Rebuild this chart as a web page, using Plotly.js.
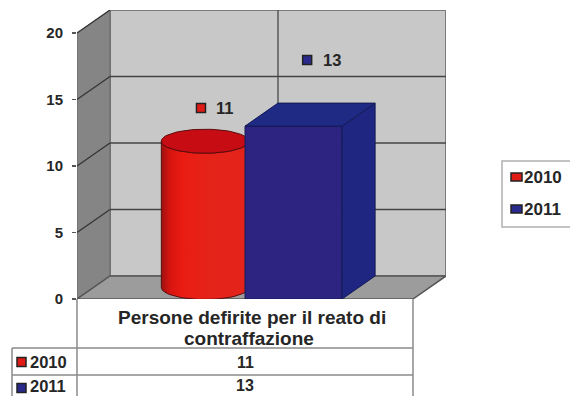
<!DOCTYPE html>
<html>
<head>
<meta charset="utf-8">
<script src="https://cdn.plot.ly/plotly-3.0.1.min.js"></script>
<style>html,body{margin:0;padding:0;background:#fff;overflow:hidden}#chart{width:570px;height:396px}</style>
</head>
<body>
<div id="chart"></div>
<script>
// Data
const categoryLines = ["Persone defirite per il reato di", "contraffazione"];
const years = ["2010", "2011"];
const values2010 = [11];
const values2011 = [13];
const yTicks = [0, 5, 10, 15, 20];

// Pseudo-3D box geometry in axis units: x runs 0..1 across the front plane
const DEPTH_X = 33 / 336, DEPTH_Y = 1.73;
const X_MAX = 1 + DEPTH_X, Y_MAX = 20 + DEPTH_Y;
const font = "Liberation Sans, Arial, sans-serif";
const ink = "#262626";

// Plot-area rectangle on the page
const L = 77, R = 446, T = 10, B = 299;
const paperX = px => (px - L) / (R - L);
const paperY = py => (B - py) / (B - T);

function poly(xs, ys, color, name) {
  return {type: "scatter", mode: "lines", x: xs.concat(xs[0]), y: ys.concat(ys[0]), fill: "toself",
    fillcolor: color, line: {color: "#141a55", width: 1}, hoverinfo: "skip", showlegend: false, name: name};
}

// Cylinder for 2010, standing mid-depth
function cylinder(value) {
  const cx = 0.381, rx = 0.13, ry = 0.9, cy0 = DEPTH_Y / 2, cy1 = value + DEPTH_Y / 2;
  const bx = [], by = [], tx = [], ty = [];
  for (let a = 0; a <= 180; a += 6) {
    const c = Math.cos(a * Math.PI / 180), s = Math.sin(a * Math.PI / 180);
    bx.push(cx - rx * c); by.push(cy0 - ry * s);
  }
  for (let a = 0; a <= 180; a += 6) {
    const c = Math.cos(a * Math.PI / 180), s = Math.sin(a * Math.PI / 180);
    bx.push(cx + rx * c); by.push(cy1 - ry * s);
  }
  for (let a = 0; a < 360; a += 6) {
    tx.push(cx + rx * Math.cos(a * Math.PI / 180));
    ty.push(cy1 + ry * Math.sin(a * Math.PI / 180));
  }
  const body = {type: "scatter", mode: "lines", x: bx.concat(bx[0]), y: by.concat(by[0]), fill: "toself",
    fillgradient: {type: "horizontal", colorscale: [[0, "#9c1210"], [0.1, "#d81410"], [0.25, "#ea1c12"], [0.6, "#e4241a"], [1, "#e4241a"]]},
    line: {color: "#5a0c0c", width: 1}, hoverinfo: "skip", showlegend: false, name: years[0]};
  const top = {type: "scatter", mode: "lines", x: tx.concat(tx[0]), y: ty.concat(ty[0]), fill: "toself",
    fillcolor: "#c80c14", line: {color: "#5a0c0c", width: 1}, hoverinfo: "skip", showlegend: false, name: years[0]};
  return [body, top];
}

// Box for 2011, spanning the whole depth
function box(value) {
  const x0 = 0.5, x1 = 0.789;
  return [
    poly([x0, x1, x1, x0], [0, 0, value, value], "#2d2482", years[1]),
    poly([x1, x1 + DEPTH_X, x1 + DEPTH_X, x1], [0, DEPTH_Y, value + DEPTH_Y, value], "#1e2682", years[1]),
    poly([x0, x1, x1 + DEPTH_X, x0 + DEPTH_X], [value, value, value + DEPTH_Y, value + DEPTH_Y], "#1e2a84", years[1])
  ];
}

// Small keyed value labels floating above the columns
const keyX = {a: 0.369, b: 0.685};
const keyOffset = {a: 3.36, b: 4.97};
function keyMarker(name, x, y, color) {
  return {type: "scatter", mode: "markers", name: name, x: [x], y: [y], hoverinfo: "skip", showlegend: false,
    marker: {symbol: "square", size: 9, color: color, line: {color: "#222", width: 1.5}}};
}

const traces = [
  ...cylinder(values2010[0]),
  ...box(values2011[0]),
  keyMarker(years[0], keyX.a, values2010[0] + keyOffset.a, "#e01a14"),
  keyMarker(years[1], keyX.b, values2011[0] + keyOffset.b, "#2a2a8c")
];

// Walls, floor and the skewed gridlines
const wallLine = {color: "#7c7c7c", width: 2};
const shapes = [
  {type: "rect", layer: "below", x0: DEPTH_X, x1: X_MAX, y0: DEPTH_Y, y1: Y_MAX, fillcolor: "#c8c8c8", line: wallLine},
  {type: "path", layer: "below", path: `M0,0 L${DEPTH_X},${DEPTH_Y} L${DEPTH_X},${Y_MAX} L0,20 Z`, fillcolor: "#858585", line: {color: "#666", width: 1}},
  {type: "path", layer: "below", path: `M0,0 L${DEPTH_X},${DEPTH_Y} L${X_MAX},${DEPTH_Y} L1,0 Z`, fillcolor: "#9c9c9c", line: {color: "#555", width: 1.5}},
  {type: "line", layer: "below", x0: (DEPTH_X + X_MAX) / 2, x1: (DEPTH_X + X_MAX) / 2, y0: DEPTH_Y, y1: Y_MAX, line: {color: "#5a5a5a", width: 1.5}}
];
yTicks.filter(v => v > 0 && v < 20).forEach(v => {
  shapes.push({type: "line", layer: "below", x0: DEPTH_X, x1: X_MAX, y0: v + DEPTH_Y, y1: v + DEPTH_Y, line: {color: "#444", width: 1.5}});
});
yTicks.filter(v => v > 0).forEach(v => {
  shapes.push({type: "line", layer: "below", x0: 0, x1: DEPTH_X, y0: v, y1: v + DEPTH_Y, line: {color: "#333", width: 1.2}});
});

// Data table under the plot
const tableLine = {color: "#8a8a8a", width: 1.5};
function tline(x0, y0, x1, y1) {
  shapes.push({type: "line", xref: "paper", yref: "paper", x0: paperX(x0), x1: paperX(x1), y0: paperY(y0), y1: paperY(y1), line: tableLine});
}
const rowTop = [348, 375], tableBottom = 397, tableLeft = 12, tableRight = 413;
tline(L, B, L, tableBottom);
tline(tableRight, B, tableRight, tableBottom);
tline(tableLeft, rowTop[0], tableLeft, tableBottom);
rowTop.forEach(y => tline(tableLeft, y, tableRight, y));

const swatchColors = ["#e01a14", "#2a2a8c"];
const rowValues = [values2010[0], values2011[0]];
const annotations = [];
function note(text, x, y, anchor, size) {
  annotations.push({text, x: paperX(x), y: paperY(y), xref: "paper", yref: "paper", xanchor: anchor, yanchor: "middle",
    showarrow: false, font: {family: font, size, color: ink, weight: 700}, borderpad: 0, borderwidth: 0});
}
function swatch(x0, x1, yc, h, color) {
  shapes.push({type: "rect", xref: "paper", yref: "paper",
    x0: paperX(x0), x1: paperX(x1), y0: paperY(yc + h / 2), y1: paperY(yc - h / 2),
    fillcolor: color, line: {color: "#222", width: 1.5}});
}
note(categoryLines[0], 252, 317, "center", 19);
note(categoryLines[1], 249, 338, "center", 19);
years.forEach((yr, i) => {
  const yc = i === 0 ? 362 : 385.5;
  swatch(17, 26, i === 0 ? 362 : 388, 9, swatchColors[i]);
  note(yr, 30, yc, "left", 16.5);
  note(String(rowValues[i]), 245, yc, "center", 16);
});

// Side key
shapes.push({type: "rect", xref: "paper", yref: "paper", x0: paperX(502), x1: paperX(580), y0: paperY(227), y1: paperY(161),
  fillcolor: "#fff", line: {color: "#b0b0b0", width: 1.5}});
years.forEach((yr, i) => {
  const yc = i === 0 ? 177 : 209;
  swatch(511, 522, yc, 8, swatchColors[i]);
  note(yr, 524, yc, "left", 17);
});

// Value captions beside the floating keys
[[values2010[0], keyX.a, keyOffset.a], [values2011[0], keyX.b, keyOffset.b]].forEach(([v, x, off]) => {
  annotations.push({text: String(v), x: x + 0.04, y: v + off, xanchor: "left", yanchor: "middle", showarrow: false,
    font: {family: font, size: 16.5, color: ink, weight: 700}});
});

const layout = {
  width: 570, height: 396,
  margin: {l: L, r: 570 - R, t: T, b: 396 - B, pad: 0, autoexpand: false},
  paper_bgcolor: "#fff", plot_bgcolor: "#fff",
  showlegend: false,
  xaxis: {range: [0, X_MAX], showgrid: false, zeroline: false, showline: false, showticklabels: false, ticks: "", fixedrange: true},
  yaxis: {range: [0, Y_MAX], tickvals: yTicks, ticks: "outside", ticklen: 4, tickcolor: "#555", tickwidth: 1.5,
    ticklabelstandoff: 6, showgrid: false, zeroline: false, showline: false, fixedrange: true,
    tickfont: {family: font, size: 15, color: ink, weight: 700}},
  shapes, annotations
};
Plotly.newPlot("chart", traces, layout, {staticPlot: true, displayModeBar: false});
</script>
</body>
</html>
